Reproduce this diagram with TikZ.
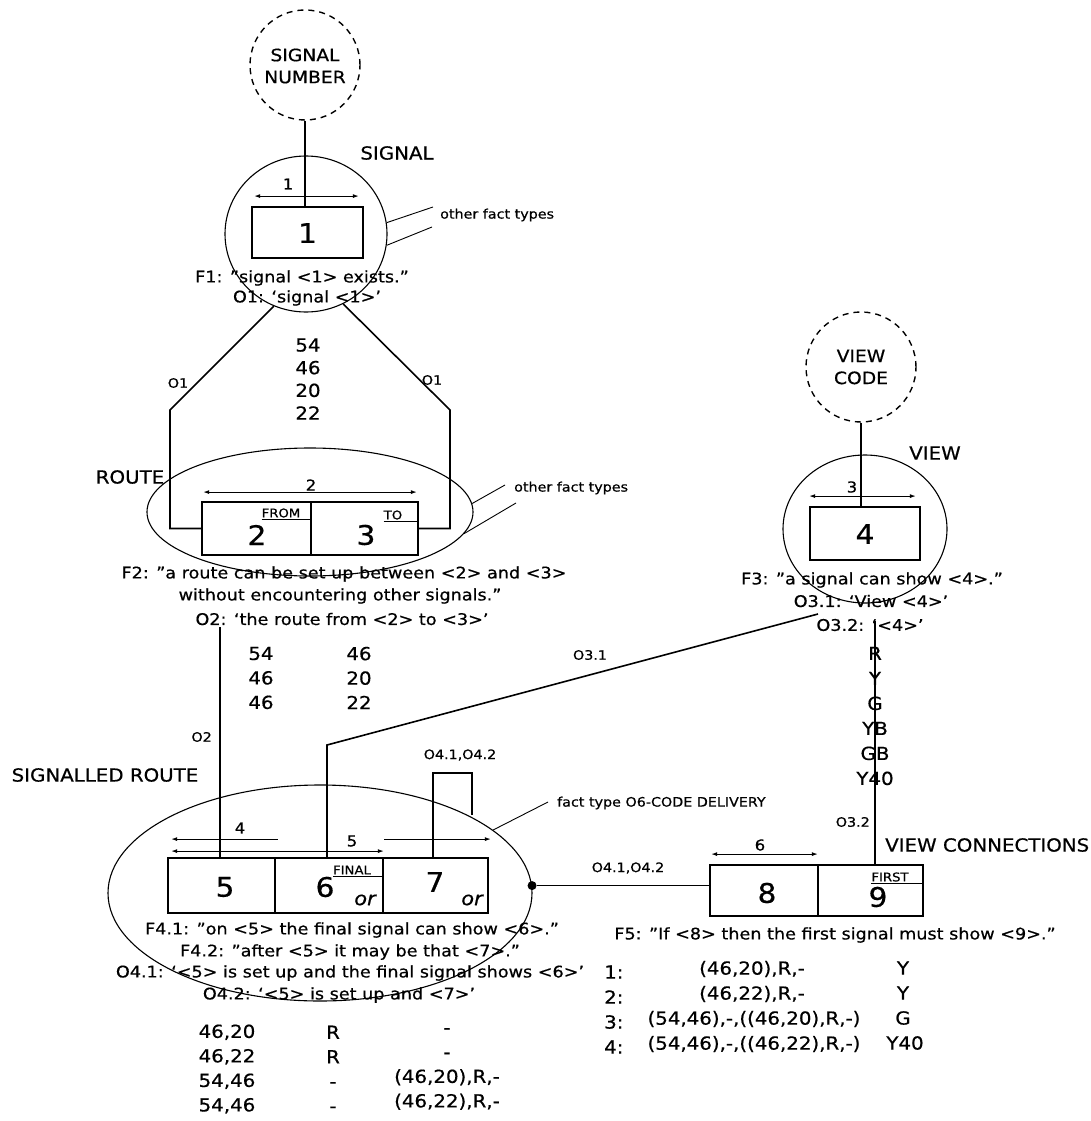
\documentclass[tikz,border=0pt]{standalone}
\usepackage{fontspec}
\setmainfont{DejaVu Sans}[FakeStretch=1.1,FakeBold=0.6]
\usetikzlibrary{shapes.geometric,arrows.meta,calc}
\begin{document}
\begin{tikzpicture}[x=1pt,y=-1pt,
  txt/.style={inner sep=0pt, font=\fontsize{16}{18}\selectfont},
  lbl/.style={inner sep=0pt, font=\fontsize{18}{20}\selectfont},
  cirtxt/.style={inner sep=0pt, align=center, font=\fontsize{17}{22}\selectfont},
  sml/.style={inner sep=0pt, font=\fontsize{13}{15}\selectfont},
  tiny/.style={inner sep=0pt, font=\fontsize{12}{14}\selectfont},
  dl/.style={inner sep=0pt, font=\fontsize{15}{17}\selectfont},
  dig/.style={inner sep=0pt, font=\fontsize{27}{29}\selectfont},
  num/.style={inner sep=0pt, font=\fontsize{18}{24.5}\selectfont},
  ortxt/.style={inner sep=0pt, font=\fontsize{19}{21}\itshape},
  cell/.style={draw, line width=1.8pt, inner sep=0pt},
  ent/.style={draw, ellipse, line width=1.1pt, inner sep=0pt},
  valc/.style={draw, circle, dash pattern=on 6pt off 5pt, line width=1.4pt, inner sep=0pt, minimum size=110pt},
  con/.style={line width=1.6pt},
  hair/.style={line width=0.9pt},
  dim/.style={{Latex[length=6pt,width=4pt]}-{Latex[length=6pt,width=4pt]}, line width=1.1pt},
  diml/.style={{Latex[length=6pt,width=4pt]}-, line width=1.1pt},
  dimr/.style={-{Latex[length=6pt,width=4pt]}, line width=1.1pt}
]
\fill[white] (0,0) rectangle (1090,1121);
\useasboundingbox (0,0) rectangle (1090,1121);

% ---------------- SIGNAL NUMBER / SIGNAL
\node[valc] (sn) at (305,65) {};
\node[cirtxt] (snt) at (305,66) {SIGNAL\\NUMBER};
\node[ent, minimum width=162pt, minimum height=156pt] (sig) at (306,234) {};
\node[lbl] (sigl) at (397,153) {SIGNAL};
\node[cell, minimum width=111pt, minimum height=51pt] (b1) at (307.5,232.5) {};
\node[dig] (d1) at (307.5,233) {1};
\draw[dim] ($(b1.north west)+(3,-10)$) -- ($(b1.north east)+(-5,-10)$);
\node[dl] (a1) at (288,184) {1};
\draw[con] (sn.south) -- (sn.south |- b1.north);
\coordinate (ofA) at (433,207);
\coordinate (ofB) at (432,227);
\draw[hair] (sig.8) -- (ofA);
\draw[hair] (sig.-8) -- (ofB);
\node[sml, anchor=west] (oft1) at (440,215) {other fact types};
\node[txt] (f1) at (302,278) {F1: "signal <1> exists."};
\node[txt] (o1) at (307,298) {O1: `signal <1>'};
\node[sml] (l1a) at (178,383) {O1};
\node[sml] (l1b) at (432,380) {O1};
\node[num, align=center, font=\fontsize{18}{22.7}\selectfont] (nsig) at (308,379) {54\\46\\20\\22};

% ---------------- ROUTE
\node[lbl] (rl) at (130,477) {ROUTE};
\node[ent, minimum width=326pt, minimum height=128pt] (route) at (310,512) {};
\node[cell, minimum width=109pt, minimum height=53pt] (r2) at (256.5,528.5) {};
\node[cell, minimum width=107pt, minimum height=53pt] (r3) at (364.5,528.5) {};
\node[dig] (d2) at (257,535) {2};
\node[dig] (d3) at (366,535) {3};
\draw[dim] ($(r2.north west)+(2,-9)$) -- ($(r3.north east)+(-2,-9)$);
\node[dl] (a2) at (311,485) {2};
\node[tiny] (from) at (281,513) {FROM};
\draw[hair] ($(from.south west)+(0,2)$) -- ($(from.south west -| r2.east)+(0,2)$);
\node[tiny] (to) at (393,515) {TO};
\draw[hair] ($(to.south west)+(0,2)$) -- ($(to.south west -| r3.east)+(0,2)$);
\coordinate (ofC) at (505,485);
\coordinate (ofD) at (516,503);
\draw[hair] (route.3) -- (ofC);
\draw[hair] (route.-8) -- (ofD);
\node[sml, anchor=west] (oft2) at (514,488) {other fact types};
\node[txt] (f2a) at (344,574) {F2: "a route can be set up between <2> and <3>};
\node[txt] (f2b) at (340,596) {without encountering other signals."};
\node[txt] (o2) at (342,619) {O2: `the route from <2> to <3>'};
\node[num, align=center] (nr1) at (261,678) {54\\46\\46};
\node[num, align=center] (nr2) at (359,678) {46\\20\\22};
\node[sml, anchor=east] (lo2) at (212,737) {O2};

% ---------------- VIEW
\node[valc] (vc) at (861,367) {};
\node[cirtxt] (vct) at (861,367) {VIEW\\CODE};
\node[ent, minimum width=164pt, minimum height=148pt] (view) at (865,529) {};
\node[lbl] (vl) at (935,453) {VIEW};
\node[cell, minimum width=110pt, minimum height=53pt] (b4) at (865,533.5) {};
\node[dig] (d4) at (865,534) {4};
\draw[dim] ($(b4.north west)+(0,-10)$) -- ($(b4.north east)+(-5,-10)$);
\node[dl] (a3) at (852,487) {3};
\draw[con] (vc.south) -- (vc.south |- b4.north);
\node[txt] (f3) at (872,580) {F3: "a signal can show <4>."};
\node[txt] (o31) at (871,601) {O3.1: `View <4>'};
\node[txt] (o32) at (870,625) {O3.2: `<4>'};
\node[sml] (lo31) at (590,655) {O3.1};
\node[num, align=center, font=\fontsize{18}{25}\selectfont] (vals) at (875,716) {R\\Y\\G\\YB\\GB\\Y40};
\node[sml, anchor=east] (lo32) at (870,822) {O3.2};
\node[lbl, anchor=west] (vcl) at (885,845) {VIEW CONNECTIONS};

% ---------------- SIGNALLED ROUTE
\node[lbl] (srl) at (105,775) {SIGNALLED ROUTE};
\node[ent, minimum width=424pt, minimum height=216pt] (sr) at (320,893) {};
\node[cell, minimum width=107pt, minimum height=55pt] (s5) at (221.5,885.5) {};
\node[cell, minimum width=108pt, minimum height=55pt] (s6) at (329,885.5) {};
\node[cell, minimum width=105pt, minimum height=55pt] (s7) at (435.5,885.5) {};
\node[dig] (d5) at (225,887) {5};
\node[dig] (d6) at (325,887) {6};
\node[dig] (d7) at (435,882) {7};
\node[tiny] (fin) at (352,870) {FINAL};
\draw[hair] ($(fin.south west)+(0,2)$) -- ($(fin.south west -| s6.east)+(0,2)$);
\node[ortxt] (or6) at (365,900) {or};
\node[ortxt] (or7) at (472,900) {or};
\draw[diml] ($(s5.north west)+(4,-18)$) -- ($(s5.north east)+(2,-18)$);
\draw[dimr] ($(s7.north west)+(2,-18)$) -- ($(s7.north east)+(2,-18)$);
\draw[dim] ($(s5.north west)+(4,-6)$) -- ($(s6.north east)+(0,-6)$);
\node[dl] (a4) at (240,828) {4};
\node[dl] (a5) at (352,841) {5};
\coordinate (lp1) at (433,773);
\coordinate (lp2) at (472,773);
\coordinate (lp3) at (472,815);
\draw[con] (s7.north -| lp1) -- (lp1) -- (lp2) -- (lp3);
\node[sml] (lo4) at (460,755) {O4.1,O4.2};
\coordinate (ofE) at (548,802);
\draw[hair] (sr.20) -- (ofE);
\node[sml, anchor=west] (o6t) at (557,803) {fact type O6-CODE DELIVERY};
\node[txt] (f41) at (352,930) {F4.1: "on <5> the final signal can show <6>."};
\node[txt] (f42) at (350,952) {F4.2: "after <5> it may be that <7>."};
\node[txt] (o41) at (350,973) {O4.1: `<5> is set up and the final signal shows <6>'};
\node[txt] (o42) at (339,995) {O4.2: `<5> is set up and <7>'};
\node[num, align=center] (tl1) at (227,1069) {46,20\\46,22\\54,46\\54,46};
\node[num, align=center] (tl2) at (333,1069) {R\\R\\-\\-};
\node[num, align=center] (tl3) at (447,1069) {-\\-\\(46,20),R,-\\(46,22),R,-};

% ---------------- VIEW CONNECTIONS
\node[cell, minimum width=108pt, minimum height=51pt] (v8) at (764,890.5) {};
\node[cell, minimum width=105pt, minimum height=51pt] (v9) at (870.5,890.5) {};
\node[dig] (d8) at (767,893) {8};
\node[dig] (d9) at (878,897) {9};
\node[tiny] (first) at (890,877) {FIRST};
\draw[hair] ($(first.south west)+(0,2)$) -- ($(first.south west -| v9.east)+(0,2)$);
\draw[dim] ($(v8.north west)+(2,-10)$) -- ($(v8.north east)+(-1,-10)$);
\node[dl] (a6) at (760,845) {6};
\node[txt] (f5) at (835,935) {F5: "If <8> then the first signal must show <9>."};
\node[num, anchor=west] (i1) at (604,972) {1:};
\node[num, anchor=west] (i2) at (604,997) {2:};
\node[num, anchor=west] (i3) at (604,1022) {3:};
\node[num, anchor=west] (i4) at (604,1047) {4:};
\node[num] (t1) at (752,969) {(46,20),R,-};
\node[num] (t2) at (752,994) {(46,22),R,-};
\node[num] (t3) at (754,1019) {(54,46),-,((46,20),R,-)};
\node[num] (t4) at (754,1044) {(54,46),-,((46,22),R,-)};
\node[num] (y1) at (903,968) {Y};
\node[num] (y2) at (903,993) {Y};
\node[num] (y3) at (903,1018) {G};
\node[num] (y4) at (905,1043) {Y40};

% ---------------- connectors
\coordinate (kL) at (170,410);
\coordinate (kR) at (450,410);
\draw[con] (sig.-114) -- (kL) |- (r2.west);
\draw[con] (sig.-62) -- (kR) |- (r3.east);
\coordinate (o2s) at (220,627);
\draw[con] (o2s) -- (o2s |- s5.north);
\coordinate (o31s) at (818,614);
\coordinate (k31) at (327,745);
\draw[con] (o31s) -- (k31) -- (k31 |- s6.north);
\coordinate (o32s) at (875,621);
\draw[con] (o32s) -- (o32s |- v9.north);
\node[circle, fill, inner sep=0pt, minimum size=9pt] (dot) at (sr.2) {};
\draw[con] (dot) -- (dot -| v8.west);
\node[sml] (lo41) at (628,868) {O4.1,O4.2};
\end{tikzpicture}
\end{document}
